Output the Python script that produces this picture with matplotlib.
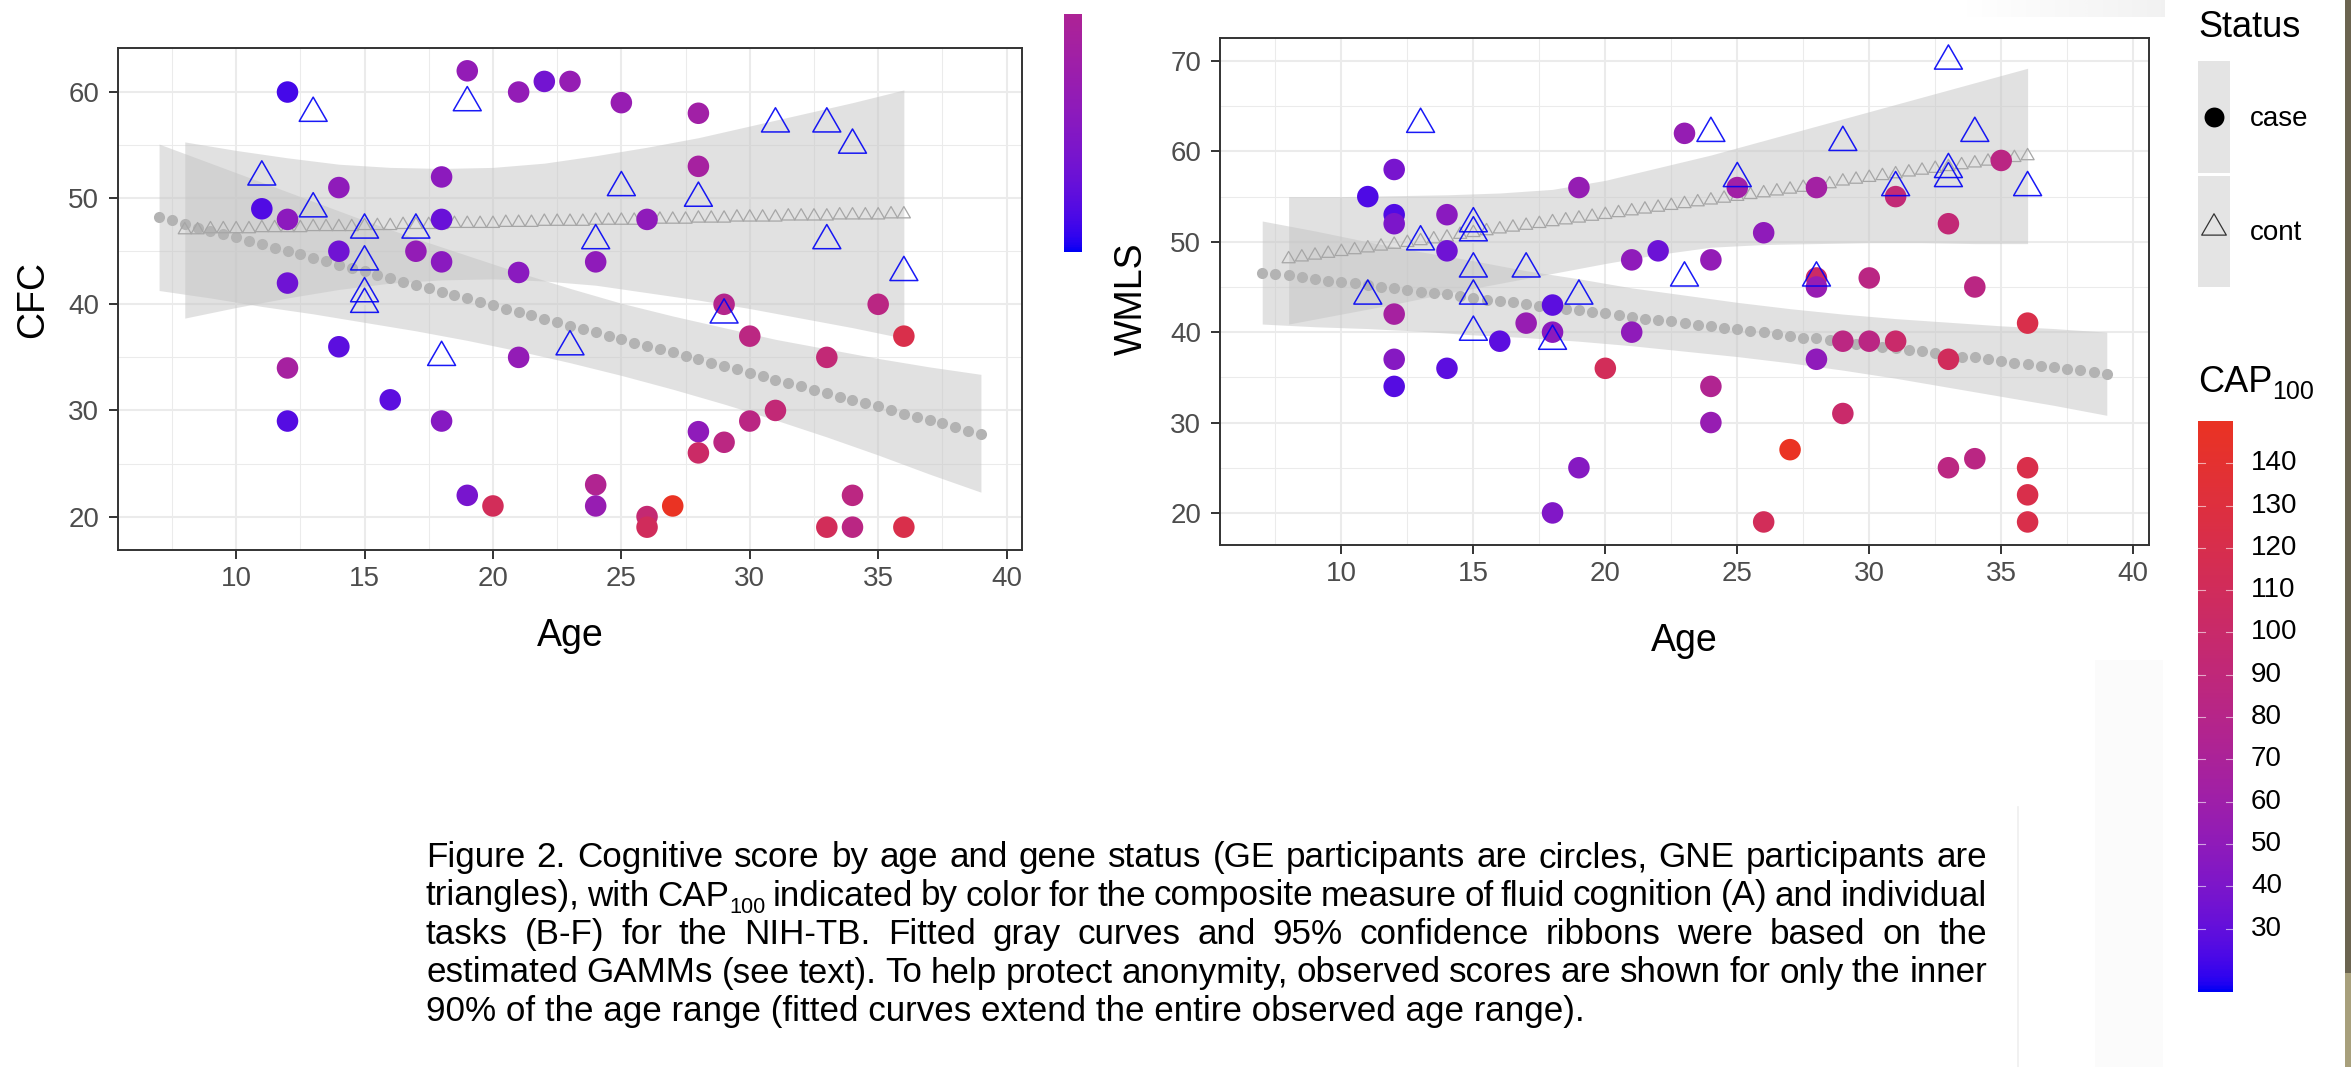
import numpy as np
import matplotlib
matplotlib.use("Agg")
import matplotlib.pyplot as plt
from matplotlib.colors import ListedColormap
from matplotlib.path import Path
from matplotlib.ticker import MultipleLocator

plt.rcParams["font.family"] = ["Liberation Sans", "DejaVu Sans"]

W, H = 2351, 1067

# ages at which the fitted GAMM curves are shown
CASE_FIT_AGE = [
    7.0, 7.5, 8.0, 8.5, 9.0, 9.5, 10.0, 10.5, 11.0, 11.5,
    12.0, 12.5, 13.0, 13.5, 14.0, 14.5, 15.0, 15.5, 16.0, 16.5,
    17.0, 17.5, 18.0, 18.5, 19.0, 19.5, 20.0, 20.5, 21.0, 21.5,
    22.0, 22.5, 23.0, 23.5, 24.0, 24.5, 25.0, 25.5, 26.0, 26.5,
    27.0, 27.5, 28.0, 28.5, 29.0, 29.5, 30.0, 30.5, 31.0, 31.5,
    32.0, 32.5, 33.0, 33.5, 34.0, 34.5, 35.0, 35.5, 36.0, 36.5,
    37.0, 37.5, 38.0, 38.5, 39.0,
]
CONT_FIT_AGE = [
    8.0, 8.5, 9.0, 9.5, 10.0, 10.5, 11.0, 11.5, 12.0, 12.5,
    13.0, 13.5, 14.0, 14.5, 15.0, 15.5, 16.0, 16.5, 17.0, 17.5,
    18.0, 18.5, 19.0, 19.5, 20.0, 20.5, 21.0, 21.5, 22.0, 22.5,
    23.0, 23.5, 24.0, 24.5, 25.0, 25.5, 26.0, 26.5, 27.0, 27.5,
    28.0, 28.5, 29.0, 29.5, 30.0, 30.5, 31.0, 31.5, 32.0, 32.5,
    33.0, 33.5, 34.0, 34.5, 35.0, 35.5, 36.0,
]
CASE_BAND_AGE = [7, 9, 11, 13, 15, 17, 19, 21, 23, 25, 27, 29, 31, 33, 35, 37, 39]
CONT_BAND_AGE = [8, 10, 12, 14, 16, 18, 20, 22, 24, 26, 28, 30, 32, 34, 36]

# ---- panel A: CFC ----
CFC_CASE_AGE = [12, 19, 21, 22, 23, 25, 28, 28, 11, 12, 14, 18, 18, 26, 14, 17, 18, 24, 12, 21,
                29, 35, 30, 36, 14, 12, 21, 33, 16, 12, 18, 31, 30, 28, 29, 28, 19, 20, 24, 24,
                26, 26, 27, 34, 33, 34, 36]
CFC_CASE_SCORE = [60, 62, 60, 61, 61, 59, 58, 53, 49, 48, 51, 52, 48, 48, 45, 45, 44, 44, 42, 43,
                  40, 40, 37, 37, 36, 34, 35, 35, 31, 29, 29, 30, 29, 28, 27, 26, 22, 21, 23, 21,
                  20, 19, 21, 22, 19, 19, 19]
CFC_CASE_CAP = [22, 52, 52, 36, 54, 55, 62, 66, 25, 48, 50, 48, 32, 50, 35, 52, 47, 50, 34, 47,
                78, 84, 85, 122, 28, 66, 52, 92, 28, 26, 45, 92, 84, 50, 85, 103, 38, 112, 75, 55,
                95, 110, 150, 85, 112, 84, 122]
CFC_CONT_AGE = [11, 13, 13, 15, 15, 15, 15, 17, 18, 19, 23, 24, 25, 28, 29, 31, 33, 33, 34, 36]
CFC_CONT_SCORE = [52, 58, 49, 47, 44, 41, 40, 47, 35, 59, 36, 46, 51, 50, 39, 57, 57, 46, 55, 43]

CFC_CASE_FIT = [
    48.2, 47.9, 47.6, 47.2, 46.9, 46.6, 46.3, 46.0, 45.7, 45.3,
    45.0, 44.7, 44.4, 44.1, 43.7, 43.4, 43.1, 42.8, 42.5, 42.1,
    41.8, 41.5, 41.2, 40.9, 40.6, 40.2, 39.9, 39.6, 39.3, 39.0,
    38.6, 38.3, 38.0, 37.7, 37.4, 37.0, 36.7, 36.4, 36.1, 35.8,
    35.5, 35.1, 34.8, 34.5, 34.2, 33.9, 33.5, 33.2, 32.9, 32.6,
    32.3, 31.9, 31.6, 31.3, 31.0, 30.7, 30.4, 30.0, 29.7, 29.4,
    29.1, 28.8, 28.4, 28.1, 27.8,
]
CFC_CONT_FIT = [
    47.0, 47.0, 47.1, 47.1, 47.1, 47.1, 47.2, 47.2, 47.2, 47.2,
    47.3, 47.3, 47.3, 47.3, 47.4, 47.4, 47.4, 47.5, 47.5, 47.5,
    47.5, 47.6, 47.6, 47.6, 47.6, 47.7, 47.7, 47.7, 47.8, 47.8,
    47.8, 47.8, 47.9, 47.9, 47.9, 47.9, 48.0, 48.0, 48.0, 48.0,
    48.1, 48.1, 48.1, 48.2, 48.2, 48.2, 48.2, 48.3, 48.3, 48.3,
    48.3, 48.4, 48.4, 48.4, 48.4, 48.5, 48.5,
]
CFC_CASE_LO = [41.3, 40.6, 39.8, 39.1, 38.3, 37.5, 36.6, 35.6, 34.5, 33.3, 32.0, 30.6, 29.1, 27.5, 25.8, 24.0, 22.3]
CFC_CASE_HI = [55.1, 53.3, 51.5, 49.7, 47.9, 46.2, 44.6, 43.0, 41.5, 40.1, 38.9, 37.8, 36.7, 35.8, 34.9, 34.1, 33.4]
CFC_CONT_LO = [38.7, 39.7, 40.6, 41.4, 42.0, 42.3, 42.4, 42.2, 41.8, 41.1, 40.4, 39.6, 38.7, 37.8, 36.8]
CFC_CONT_HI = [55.3, 54.5, 53.8, 53.2, 52.9, 52.8, 52.9, 53.3, 54.0, 54.8, 55.7, 56.8, 57.9, 59.0, 60.2]

# ---- panel B: WMLS ----
WMLS_CASE_AGE = [12, 11, 12, 12, 14, 14, 19, 23, 21, 22, 12, 18, 17, 18, 16, 21, 12, 14, 12, 20,
                 19, 18, 25, 28, 26, 24, 31, 33, 35, 28, 28, 30, 34, 36, 29, 30, 31, 28, 33, 24,
                 24, 29, 27, 33, 34, 36, 36, 36, 26]
WMLS_CASE_SCORE = [58, 55, 53, 52, 53, 49, 56, 62, 48, 49, 42, 43, 41, 40, 39, 40, 37, 36, 34, 36,
                   25, 20, 56, 56, 51, 48, 55, 52, 59, 46, 45, 46, 45, 41, 39, 39, 39, 37, 37, 34,
                   30, 31, 27, 25, 26, 25, 22, 19, 19]
WMLS_CASE_CAP = [38, 24, 25, 40, 47, 34, 54, 54, 50, 33, 66, 28, 55, 48, 28, 50, 45, 28, 26, 112,
                 45, 42, 62, 64, 50, 52, 92, 92, 84, 103, 55, 84, 84, 122, 85, 84, 100, 50, 110, 75,
                 55, 100, 150, 85, 84, 122, 122, 122, 112]
WMLS_CONT_AGE = [11, 13, 13, 15, 15, 15, 15, 15, 17, 18, 19, 23, 24, 25, 28, 29, 31, 33, 33, 33, 34, 36]
WMLS_CONT_SCORE = [44, 63, 50, 52, 51, 47, 44, 40, 47, 39, 44, 46, 62, 57, 46, 61, 56, 70, 58, 57, 62, 56]

WMLS_CASE_FIT = [
    46.6, 46.4, 46.3, 46.1, 45.9, 45.7, 45.6, 45.4, 45.2, 45.0,
    44.9, 44.7, 44.5, 44.3, 44.2, 44.0, 43.8, 43.6, 43.5, 43.3,
    43.1, 42.9, 42.8, 42.6, 42.4, 42.2, 42.1, 41.9, 41.7, 41.5,
    41.4, 41.2, 41.0, 40.8, 40.7, 40.5, 40.3, 40.1, 40.0, 39.8,
    39.6, 39.4, 39.3, 39.1, 38.9, 38.7, 38.6, 38.4, 38.2, 38.0,
    37.9, 37.7, 37.5, 37.3, 37.2, 37.0, 36.8, 36.6, 36.5, 36.3,
    36.1, 35.9, 35.8, 35.6, 35.4,
]
WMLS_CONT_FIT = [
    48.1, 48.3, 48.5, 48.7, 48.9, 49.1, 49.3, 49.5, 49.7, 49.9,
    50.1, 50.3, 50.5, 50.8, 51.0, 51.2, 51.4, 51.6, 51.8, 52.0,
    52.2, 52.4, 52.6, 52.8, 53.0, 53.2, 53.4, 53.6, 53.8, 54.0,
    54.2, 54.4, 54.6, 54.8, 55.0, 55.2, 55.4, 55.6, 55.8, 56.0,
    56.2, 56.4, 56.7, 56.9, 57.1, 57.3, 57.5, 57.7, 57.9, 58.1,
    58.3, 58.5, 58.7, 58.9, 59.1, 59.3, 59.5,
]
WMLS_CASE_LO = [40.9, 40.6, 40.4, 40.1, 39.7, 39.4, 39.0, 38.5, 37.9, 37.3, 36.6, 35.8, 34.9, 33.9, 32.9, 31.9, 30.8]
WMLS_CASE_HI = [52.3, 51.2, 50.0, 48.9, 47.9, 46.8, 45.9, 44.9, 44.1, 43.3, 42.6, 42.0, 41.5, 41.1, 40.7, 40.4, 40.0]
WMLS_CONT_LO = [40.9, 42.0, 43.1, 44.3, 45.4, 46.5, 47.6, 48.6, 49.4, 49.7, 49.8, 49.9, 49.9, 49.8, 49.8]
WMLS_CONT_HI = [55.0, 55.0, 55.1, 55.2, 55.4, 55.8, 56.8, 58.2, 59.6, 61.2, 62.8, 64.4, 66.0, 67.6, 69.2]

CAP_MIN, CAP_MAX = 15, 150
CAP_TICKS = [30, 40, 50, 60, 70, 80, 90, 100, 110, 120, 130, 140]

AGE_TICKS = [10, 15, 20, 25, 30, 35, 40]

CAPTION = [
    "Figure 2. Cognitive score by age and gene status (GE participants are circles, GNE participants are",
    ["triangles),", "with", ("CAP", "100"), "indicated", "by", "color", "for", "the", "composite",
     "measure", "of", "fluid", "cognition", "(A)", "and", "individual"],
    "tasks (B-F) for the NIH-TB. Fitted gray curves and 95% confidence ribbons were based on the",
    "estimated GAMMs (see text). To help protect anonymity, observed scores are shown for only the inner",
    "90% of the age range (fitted curves extend the entire observed age range).",
]


# blue -> red gradient interpolated in Lab, then shown through a P3 screen profile
M_XYZ = np.array([[0.4124, 0.3576, 0.1805],
                  [0.2126, 0.7152, 0.0722],
                  [0.0193, 0.1192, 0.9505]])
WHITE = np.array([0.95047, 1.0, 1.08883])
SRGB_TO_P3 = np.array([[0.8225, 0.1774, 0.0],
                       [0.0332, 0.9669, 0.0],
                       [0.0171, 0.0724, 0.9108]])


def to_lin(c):
    c = np.asarray(c, float)
    return np.where(c <= 0.04045, c / 12.92, ((c + 0.055) / 1.055) ** 2.4)


def to_srgb(c):
    c = np.clip(c, 0, 1)
    return np.where(c <= 0.0031308, c * 12.92, 1.055 * c ** (1 / 2.4) - 0.055)


def rgb_to_lab(rgb):
    xyz = M_XYZ @ to_lin(rgb) / WHITE
    d = 6 / 29
    f = np.where(xyz > d ** 3, np.cbrt(xyz), xyz / (3 * d * d) + 4 / 29)
    return np.array([116 * f[1] - 16, 500 * (f[0] - f[1]), 200 * (f[1] - f[2])])


def lab_to_lin(lab):
    d = 6 / 29
    fy = (lab[:, 0] + 16) / 116
    f = np.stack([fy + lab[:, 1] / 500, fy, fy - lab[:, 2] / 200], -1)
    xyz = np.where(f > d, f ** 3, 3 * d * d * (f - 4 / 29)) * WHITE
    return xyz @ np.linalg.inv(M_XYZ).T


def make_cmap():
    lo, hi = rgb_to_lab([0, 0, 1]), rgb_to_lab([1, 0, 0])
    t = np.linspace(0, 1, 256)[:, None]
    lin = np.clip(lab_to_lin(lo + t * (hi - lo)), 0, 1)
    return ListedColormap(to_srgb(lin @ SRGB_TO_P3.T))


CMAP = make_cmap()
BLUE = "#0000F5"
RIBBON = "#C4C4C4"
TRI = Path([(0, 1), (-0.866, -0.5), (0.866, -0.5), (0, 1)],
           [Path.MOVETO, Path.LINETO, Path.LINETO, Path.CLOSEPOLY])


def box(x0, y0, x1, y1):
    return [x0 / W, 1 - y1 / H, (x1 - x0) / W, (y1 - y0) / H]


def draw_panel(ax, ylim, yticks, case_age, case_score, case_cap, cont_age, cont_score,
               case_fit, cont_fit, case_lo, case_hi, cont_lo, cont_hi):
    ax.set_xlim(5.4, 40.6)
    ax.set_ylim(*ylim)
    ax.set_xticks(AGE_TICKS)
    ax.set_yticks(yticks)
    ax.xaxis.set_minor_locator(MultipleLocator(2.5))
    ax.yaxis.set_minor_locator(MultipleLocator(5))
    ax.grid(which="major", color="#EBEBEB", lw=1.5)
    ax.grid(which="minor", color="#EBEBEB", lw=0.75)
    ax.set_axisbelow(True)
    ax.tick_params(which="major", length=6.5, width=1.4, color="#333333",
                   labelsize=20, labelcolor="#4D4D4D")
    ax.tick_params(axis="x", pad=5)
    ax.tick_params(axis="y", pad=7)
    ax.tick_params(which="minor", length=0)
    for sp in ax.spines.values():
        sp.set_color("#333333")
        sp.set_linewidth(1.4)

    ax.fill_between(CASE_BAND_AGE, case_lo, case_hi, color=RIBBON, alpha=0.5, lw=0, zorder=2)
    ax.fill_between(CONT_BAND_AGE, cont_lo, cont_hi, color=RIBBON, alpha=0.5, lw=0, zorder=2)
    ax.scatter(CASE_FIT_AGE, case_fit, s=64, color="#B3B3B3", lw=0, zorder=3)
    ax.scatter(CONT_FIT_AGE, cont_fit, s=118, marker=TRI, facecolor="none",
               edgecolor="#A6A6A6", lw=0.9, zorder=3)
    ax.scatter(case_age, case_score, c=case_cap, cmap=CMAP, vmin=CAP_MIN, vmax=CAP_MAX,
               s=240, lw=0, zorder=4)
    ax.scatter(cont_age, cont_score, s=540, marker=TRI, facecolor="none",
               edgecolor=BLUE, lw=1.1, alpha=0.9, zorder=5)


fig = plt.figure(figsize=(W / 100, H / 100), dpi=100)

# full-figure layer in pixel units for legend, labels and caption
ov = fig.add_axes([0, 0, 1, 1])
ov.set_xlim(0, W)
ov.set_ylim(H, 0)
ov.axis("off")
renderer = fig.canvas.get_renderer()

ax1 = fig.add_axes(box(118, 48, 1022, 550))
draw_panel(ax1, (16.85, 64.15), [20, 30, 40, 50, 60],
           CFC_CASE_AGE, CFC_CASE_SCORE, CFC_CASE_CAP, CFC_CONT_AGE, CFC_CONT_SCORE,
           CFC_CASE_FIT, CFC_CONT_FIT, CFC_CASE_LO, CFC_CASE_HI, CFC_CONT_LO, CFC_CONT_HI)

ax2 = fig.add_axes(box(1220, 38, 2149, 545))
draw_panel(ax2, (16.45, 72.55), [20, 30, 40, 50, 60, 70],
           WMLS_CASE_AGE, WMLS_CASE_SCORE, WMLS_CASE_CAP, WMLS_CONT_AGE, WMLS_CONT_SCORE,
           WMLS_CASE_FIT, WMLS_CONT_FIT, WMLS_CASE_LO, WMLS_CASE_HI, WMLS_CONT_LO, WMLS_CONT_HI)

ov.text(570, 646, "Age", fontsize=27, ha="center", va="baseline")
ov.text(1684, 651, "Age", fontsize=27, ha="center", va="baseline")
ov.text(33, 300, "CFC", fontsize=27, rotation=90, ha="center", va="center")
ov.text(1132, 299, "WMLS", fontsize=27, rotation=90, ha="center", va="center")

# clipped colour bar left over from the neighbouring figure
ov.imshow(np.linspace(72, 15, 200)[:, None], cmap=CMAP, vmin=CAP_MIN, vmax=CAP_MAX,
          extent=[1064, 1082, 252, 14], aspect="auto", origin="upper", zorder=1)

# Status legend
ov.text(2198, 37, "Status", fontsize=26, va="baseline")
for y0, y1 in [(61, 173), (176, 287)]:
    ov.add_patch(plt.Rectangle((2198, y0), 32, y1 - y0, color="#E4E4E4", lw=0))
ov.scatter([2214], [117], s=205, color="black", lw=0, zorder=3)
ov.scatter([2214], [228], s=420, marker=TRI, facecolor="none", edgecolor="#333333",
           lw=0.9, zorder=3)
ov.text(2250, 119, "case", fontsize=20, va="center")
ov.text(2250, 233, "cont", fontsize=20, va="center")

# CAP100 colour bar
cap_t = ov.text(2198, 392, "CAP", fontsize=26, va="baseline")
cap_w = cap_t.get_window_extent(renderer).width
ov.text(2198 + cap_w, 399, "100", fontsize=18, va="baseline")
CB_TOP, CB_BOT, CB_L, CB_R = 421, 992, 2198, 2233
ov.imshow(np.linspace(CAP_MAX, CAP_MIN, 400)[:, None], cmap=CMAP, vmin=CAP_MIN, vmax=CAP_MAX,
          extent=[CB_L, CB_R, CB_BOT, CB_TOP], aspect="auto", origin="upper", zorder=1)
for v in CAP_TICKS:
    y = CB_BOT - (v - CAP_MIN) / (CAP_MAX - CAP_MIN) * (CB_BOT - CB_TOP)
    ov.plot([CB_L, CB_L + 7], [y, y], color="white", lw=0.8, alpha=0.6, zorder=2)
    ov.plot([CB_R - 7, CB_R], [y, y], color="white", lw=0.8, alpha=0.6, zorder=2)
    ov.text(2251, y, str(v), fontsize=20, va="center")

# screenshot edges
ov.add_patch(plt.Rectangle((2345, 0), 6, 973, color="#6B6450", lw=0))
ov.add_patch(plt.Rectangle((2345, 973), 6, 94, color="#A8A07C", lw=0))
ov.plot([2018, 2018], [807, 1067], color="#EFEFEF", lw=1.2)
ov.add_patch(plt.Rectangle((2095, 660), 68, 407, color="#FBFBFB", lw=0))
ov.imshow(np.linspace(0, 1, 100)[None, :], cmap="Greys", vmin=0, vmax=9,
          extent=[1960, 2165, 17, 0], aspect="auto", zorder=0)

# caption, justified like the source document
probe = ov.text(0, 0, CAPTION[-1], fontsize=20)
cap_size = 20 * 1157 / probe.get_window_extent(renderer).width
probe.remove()

X0, X1 = 426, 1987
baselines = [867, 905.5, 944, 982.5, 1021]
for line, y in zip(CAPTION, baselines):
    if line is CAPTION[-1]:
        ov.text(X0, y, line, fontsize=cap_size, va="baseline")
        continue
    words = line.split() if isinstance(line, str) else line
    pieces = []
    for w in words:
        if isinstance(w, tuple):
            pieces.append([ov.text(0, y, w[0], fontsize=cap_size, va="baseline"),
                           ov.text(0, y + 0.2 * cap_size * 1.39, w[1],
                                   fontsize=cap_size * 0.62, va="baseline")])
        else:
            pieces.append([ov.text(0, y, w, fontsize=cap_size, va="baseline")])
    widths = [[t.get_window_extent(renderer).width for t in p] for p in pieces]
    gap = (X1 - X0 - sum(sum(w) for w in widths)) / (len(pieces) - 1)
    gap = max(gap, 0.15 * cap_size)
    x = X0
    for p, ws in zip(pieces, widths):
        for t, wd in zip(p, ws):
            t.set_x(x)
            x += wd
        x += gap

fig.savefig("out.png", dpi=100)
